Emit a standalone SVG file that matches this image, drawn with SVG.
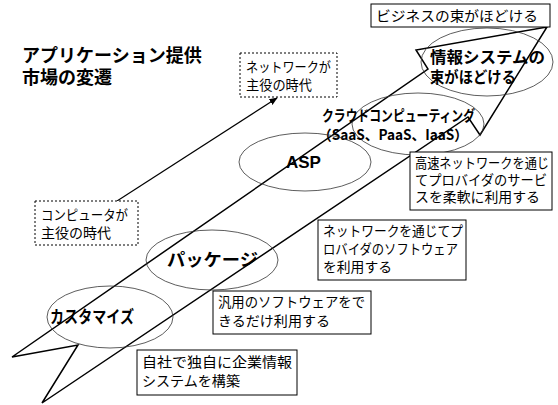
<svg xmlns="http://www.w3.org/2000/svg" width="558" height="405" viewBox="0 0 558 405">
<defs>
<style>
.t{font-family:"Noto Sans CJK JP","Liberation Sans",sans-serif;fill:#000}
.box{fill:#fff;stroke:#000;stroke-width:1}
.dash{fill:#fff;stroke:#000;stroke-width:1;stroke-dasharray:2 2}
.ell{fill:none;stroke:#333;stroke-width:0.8}
.bt{font-size:14px}
.dt{font-size:13.5px}
.lb{font-weight:bold}
</style>
<marker id="ah" viewBox="0 0 10 10" refX="9" refY="5" markerWidth="7" markerHeight="7" orient="auto-start-reverse">
<path d="M0,1 L10,5 L0,9 z" fill="#000"/>
</marker>
</defs>
<rect width="558" height="405" fill="#fff"/>
<g id="title">
<text class="t lb" x="22" y="62" font-size="18">アプリケーション提供</text>
<text class="t lb" x="22" y="84" font-size="18">市場の変遷</text>
</g>
<g id="connectors">
<polygon points="12,357 428,69 416,50 547,27 480,135 468,117 42,403 78,345" fill="none" stroke="#000" stroke-width="1.5" stroke-linejoin="miter"/>
<line x1="117" y1="201" x2="277" y2="98" stroke="#000" stroke-width="1.2" marker-end="url(#ah)"/>
</g>
<g id="business">
<rect class="box" x="371" y="4" width="179" height="23"/>
<text class="t bt" x="376" y="21" textLength="162" lengthAdjust="spacingAndGlyphs">ビジネスの束がほどける</text>
</g>
<g id="jouhou">
<ellipse class="ell" cx="487" cy="62" rx="66" ry="34"/>
<text class="t lb" x="430" y="63" font-size="16" textLength="115" lengthAdjust="spacingAndGlyphs">情報システムの</text>
<text class="t lb" x="430" y="83" font-size="16" textLength="86" lengthAdjust="spacingAndGlyphs">束がほどける</text>
</g>
<g id="network-era">
<rect class="dash" x="240" y="53" width="97" height="44"/>
<text class="t dt" x="246" y="72" textLength="85" lengthAdjust="spacingAndGlyphs">ネットワークが</text>
<text class="t dt" x="246" y="90" textLength="66" lengthAdjust="spacingAndGlyphs">主役の時代</text>
</g>
<g id="cloud">
<ellipse class="ell" cx="418" cy="124" rx="66" ry="31"/>
<text class="t lb" x="322" y="121" font-size="15" textLength="153" lengthAdjust="spacingAndGlyphs">クラウドコンピューティング</text>
<text class="t lb" x="318" y="140" font-size="14" textLength="150" lengthAdjust="spacingAndGlyphs">（SaaS、PaaS、IaaS）</text>
</g>
<g id="cloud-desc">
<rect class="box" x="410" y="152" width="142" height="58"/>
<text class="t bt" x="415" y="168" textLength="134" lengthAdjust="spacingAndGlyphs">高速ネットワークを通じ</text>
<text class="t bt" x="415" y="185" textLength="132" lengthAdjust="spacingAndGlyphs">てプロバイダのサービ</text>
<text class="t bt" x="415" y="202" textLength="125" lengthAdjust="spacingAndGlyphs">スを柔軟に利用する</text>
</g>
<g id="asp">
<ellipse class="ell" cx="305" cy="162" rx="66" ry="29"/>
<text class="lb" x="286" y="168" font-size="17" font-family="Liberation Sans, Arial, sans-serif">ASP</text>
</g>
<g id="asp-desc">
<rect class="box" x="318" y="220" width="148" height="60"/>
<text class="t bt" x="323" y="236" textLength="140" lengthAdjust="spacingAndGlyphs">ネットワークを通じてプ</text>
<text class="t bt" x="323" y="254" textLength="135" lengthAdjust="spacingAndGlyphs">ロバイダのソフトウェア</text>
<text class="t bt" x="323" y="272" textLength="69" lengthAdjust="spacingAndGlyphs">を利用する</text>
</g>
<g id="computer-era">
<rect class="dash" x="35" y="201" width="103" height="44"/>
<text class="t dt" x="41" y="220" textLength="87" lengthAdjust="spacingAndGlyphs">コンピュータが</text>
<text class="t dt" x="41" y="238" textLength="70" lengthAdjust="spacingAndGlyphs">主役の時代</text>
</g>
<g id="package">
<ellipse class="ell" cx="212" cy="260" rx="66" ry="30"/>
<text class="t lb" x="167" y="266" font-size="17" textLength="91" lengthAdjust="spacingAndGlyphs">パッケージ</text>
</g>
<g id="package-desc">
<rect class="box" x="213" y="291" width="158" height="43"/>
<text class="t bt" x="218" y="307" textLength="147" lengthAdjust="spacingAndGlyphs">汎用のソフトウェアをで</text>
<text class="t bt" x="218" y="326" textLength="112" lengthAdjust="spacingAndGlyphs">きるだけ利用する</text>
</g>
<g id="customize">
<ellipse class="ell" cx="110" cy="317" rx="63" ry="31"/>
<text class="t lb" x="50" y="323" font-size="17" textLength="84" lengthAdjust="spacingAndGlyphs">カスタマイズ</text>
</g>
<g id="customize-desc">
<rect class="box" x="137" y="350" width="160" height="45"/>
<text class="t bt" x="142" y="367" textLength="150" lengthAdjust="spacingAndGlyphs">自社で独自に企業情報</text>
<text class="t bt" x="142" y="386" textLength="98" lengthAdjust="spacingAndGlyphs">システムを構築</text>
</g>
</svg>
